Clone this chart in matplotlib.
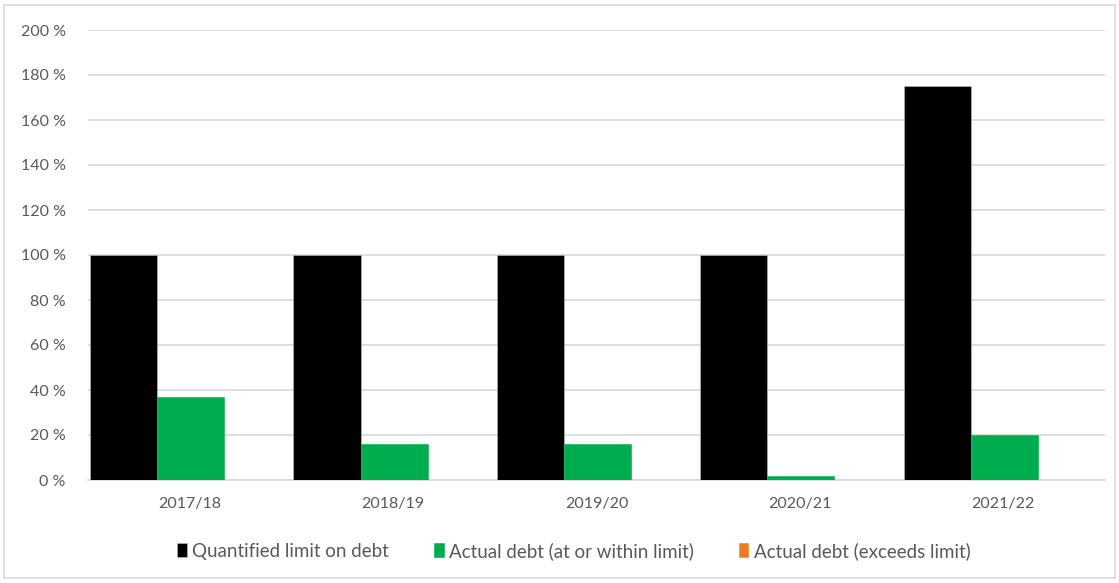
import matplotlib.pyplot as plt
import numpy as np
from matplotlib.patches import Rectangle

years = ["2017/18", "2018/19", "2019/20", "2020/21", "2021/22"]
limit = [100, 100, 100, 100, 175]
actual_within = [37, 16, 16, 2, 20]
actual_exceeds = [0, 0, 0, 0, 0]

labels = ["Quantified limit on debt", "Actual debt (at or within limit)", "Actual debt (exceeds limit)"]
colors = ["#000000", "#00AD4E", "#F07B24"]

plt.rcParams['font.family'] = ['Lato', 'DejaVu Sans']
text_col = "#595959"

fig = plt.figure(figsize=(11.19, 5.83), dpi=100)
fig.patches.append(Rectangle((0.004, 0.008), 0.992, 0.984, transform=fig.transFigure,
                             fill=False, edgecolor="#d9d9d9", linewidth=1.2))
ax = fig.add_axes([88 / 1119, 1 - 480 / 583, (1105 - 88) / 1119, 450 / 583])

x = np.arange(len(years))
w = 0.33
for i, (vals, col, lab) in enumerate(zip([limit, actual_within, actual_exceeds], colors, labels)):
    ax.bar(x + (i - 1) * w + 0.005, vals, w, color=col, label=lab, zorder=3,
           edgecolor="#bfbfbf" if i == 0 else col, linewidth=0.4)

ax.set_xlim(-0.5, len(years) - 0.5)
ax.set_ylim(0, 200)
ax.set_yticks(range(0, 201, 20))
ax.set_yticklabels([f"{v} %" for v in range(0, 201, 20)])
ax.set_xticks(x)
ax.set_xticklabels(years)
ax.grid(axis="y", color="#d9d9d9", linewidth=1.2, zorder=0)
for s in ["top", "right", "left"]:
    ax.spines[s].set_visible(False)
ax.spines["bottom"].set_color("#d9d9d9")
ax.spines["bottom"].set_linewidth(1.2)
ax.tick_params(axis="both", length=0, labelsize=11.5, colors=text_col)
ax.tick_params(axis="y", pad=16)
ax.tick_params(axis="x", pad=12)

ax.legend(loc="upper center", bbox_to_anchor=(0.478, -0.1), ncol=3, frameon=False,
          fontsize=13.5, handlelength=0.5, handleheight=0.8, handletextpad=0.3,
          columnspacing=2.4, labelcolor=text_col)

fig.savefig("out.png", dpi=100)
